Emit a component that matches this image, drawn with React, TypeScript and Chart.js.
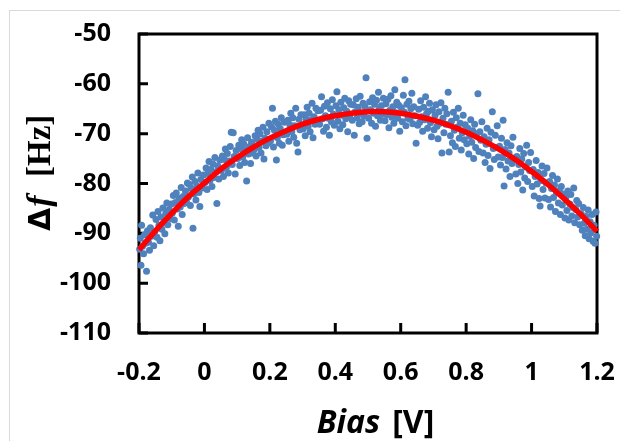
import React, { useEffect, useRef } from 'react';
import { Chart, registerables } from 'chart.js';

Chart.register(...registerables);

// ---- axis ticks ----
const xTickValues = [-0.2, 0, 0.2, 0.4, 0.6, 0.8, 1, 1.2];
const xTickLabels = ['-0.2', '0', '0.2', '0.4', '0.6', '0.8', '1', '1.2'];
const yTickValues = [-110, -100, -90, -80, -70, -60, -50];
const yTickLabels = ['-110', '-100', '-90', '-80', '-70', '-60', '-50'];

// ---- fitted curve (red) ----
const fitBias = [-0.2, -0.15, -0.1, -0.05, 0, 0.05, 0.1, 0.15, 0.2, 0.25, 0.3, 0.35, 0.4, 0.45, 0.5, 0.55, 0.6, 0.65, 0.7, 0.75, 0.8, 0.85, 0.9, 0.95, 1.0, 1.05, 1.1, 1.15, 1.2];
const fitDeltaF = [-93.3, -89.5, -86.0, -82.7, -79.9, -77.1, -74.8, -72.7, -70.9, -69.4, -68.1, -67.1, -66.4, -65.9, -65.6, -65.6, -65.9, -66.5, -67.3, -68.4, -69.7, -71.3, -73.1, -75.2, -77.6, -80.2, -83.1, -86.2, -89.6];

// ---- measured points (blue), [bias V, delta f Hz] ----
const measuredPoints: [number, number][] = [
  [-0.198,-93.2],[-0.196,-91.0],[-0.194,-96.4],[-0.192,-88.4],[-0.189,-92.6],[-0.186,-94.1],[-0.183,-90.3],[-0.180,-92.0],[-0.177,-97.6],[-0.174,-89.5],[-0.171,-91.8],[-0.168,-93.4],[-0.165,-88.9],[-0.162,-90.6],[-0.158,-86.3],[-0.155,-92.5],[-0.152,-89.7],
  [-0.148,-87.2],[-0.145,-90.8],[-0.142,-85.6],[-0.139,-88.4],[-0.136,-91.5],[-0.133,-86.7],[-0.130,-89.2],[-0.127,-84.9],[-0.124,-87.9],[-0.121,-90.1],[-0.118,-86.0],[-0.115,-83.9],[-0.112,-88.3],[-0.108,-85.2],[-0.104,-87.0],[-0.101,-84.1],
  [-0.098,-85.9],[-0.095,-82.4],[-0.092,-87.3],[-0.089,-83.8],[-0.086,-81.9],[-0.083,-85.1],[-0.080,-88.6],[-0.077,-83.0],[-0.074,-84.7],[-0.071,-80.8],[-0.068,-86.2],[-0.065,-82.6],[-0.062,-84.0],[-0.058,-81.5],[-0.055,-83.6],[-0.052,-79.9],
  [-0.049,-82.7],[-0.046,-80.2],[-0.043,-84.4],[-0.040,-81.0],[-0.037,-78.7],[-0.035,-89.0],[-0.032,-82.1],[-0.029,-79.6],[-0.026,-83.3],[-0.023,-80.5],[-0.020,-77.9],[-0.017,-81.8],[-0.014,-84.6],[-0.011,-79.2],[-0.007,-80.9],[-0.003,-78.3],
  [0.002,-79.8],[0.005,-76.9],[0.008,-81.2],[0.011,-78.0],[0.014,-75.6],[0.017,-79.4],[0.020,-77.2],[0.023,-80.6],[0.026,-76.1],[0.029,-78.8],[0.032,-74.8],[0.035,-77.7],[0.038,-84.0],[0.041,-76.5],[0.044,-79.1],[0.047,-75.3],
  [0.052,-77.4],[0.055,-74.5],[0.058,-78.6],[0.061,-75.2],[0.064,-73.1],[0.067,-76.8],[0.070,-74.0],[0.073,-77.9],[0.076,-75.5],[0.079,-72.6],[0.082,-69.7],[0.085,-76.2],[0.088,-69.8],[0.091,-74.6],[0.094,-78.1],[0.097,-73.4],
  [0.102,-75.0],[0.105,-72.3],[0.108,-76.4],[0.111,-73.0],[0.114,-71.2],[0.117,-74.7],[0.120,-72.0],[0.123,-75.8],[0.126,-73.3],[0.129,-79.5],[0.132,-70.8],[0.135,-74.1],[0.138,-72.6],[0.141,-76.0],[0.144,-71.7],[0.147,-73.9],
  [0.152,-73.2],[0.155,-70.4],[0.158,-74.5],[0.161,-71.1],[0.164,-69.3],[0.167,-72.8],[0.170,-70.0],[0.173,-73.9],[0.176,-71.5],[0.179,-68.7],[0.182,-75.1],[0.185,-70.9],[0.188,-72.4],[0.191,-69.6],[0.194,-71.9],[0.197,-67.9],
  [0.202,-71.4],[0.205,-68.6],[0.208,-64.9],[0.211,-72.7],[0.214,-69.3],[0.217,-67.5],[0.220,-75.3],[0.223,-70.8],[0.226,-68.1],[0.229,-71.9],[0.232,-69.0],[0.235,-66.8],[0.238,-72.3],[0.241,-70.2],[0.244,-67.7],[0.247,-69.7],
  [0.252,-70.1],[0.255,-67.3],[0.258,-71.5],[0.261,-68.2],[0.264,-65.9],[0.267,-69.6],[0.270,-66.8],[0.273,-70.7],[0.276,-68.4],[0.279,-64.9],[0.282,-71.9],[0.286,-73.7],[0.289,-67.1],[0.292,-69.2],[0.295,-66.2],[0.298,-68.9],
  [0.302,-69.0],[0.305,-66.2],[0.308,-70.4],[0.311,-67.1],[0.314,-64.7],[0.317,-68.5],[0.320,-65.9],[0.323,-69.6],[0.326,-67.3],[0.329,-63.9],[0.332,-70.8],[0.335,-66.6],[0.338,-68.1],[0.341,-64.9],[0.344,-67.8],[0.347,-65.4],
  [0.352,-68.1],[0.355,-65.3],[0.358,-62.6],[0.361,-67.0],[0.364,-69.5],[0.367,-64.5],[0.370,-66.4],[0.373,-68.7],[0.376,-63.8],[0.379,-66.9],[0.382,-70.3],[0.385,-65.0],[0.388,-67.6],[0.391,-63.2],[0.394,-66.1],[0.397,-68.3],
  [0.402,-64.4],[0.405,-61.6],[0.408,-67.5],[0.411,-65.2],[0.414,-69.0],[0.417,-63.7],[0.420,-66.3],[0.423,-68.2],[0.426,-64.8],[0.429,-62.9],[0.432,-67.0],[0.435,-65.5],[0.438,-69.6],[0.441,-63.4],[0.444,-66.7],[0.447,-64.1],
  [0.452,-67.3],[0.455,-64.2],[0.458,-70.3],[0.461,-65.6],[0.464,-63.0],[0.467,-66.8],[0.470,-64.7],[0.473,-68.0],[0.476,-62.5],[0.479,-65.9],[0.482,-67.6],[0.485,-63.9],[0.488,-66.4],[0.491,-64.6],[0.494,-58.8],[0.497,-70.9],
  [0.502,-66.9],[0.505,-63.6],[0.508,-65.2],[0.511,-67.9],[0.514,-62.8],[0.517,-65.9],[0.520,-64.1],[0.523,-68.5],[0.526,-63.3],[0.529,-66.4],[0.532,-61.7],[0.535,-65.0],[0.538,-67.3],[0.541,-64.4],[0.544,-66.1],[0.547,-62.9],
  [0.552,-67.4],[0.555,-64.0],[0.558,-66.2],[0.561,-63.1],[0.564,-68.8],[0.567,-65.3],[0.570,-62.4],[0.573,-66.7],[0.576,-64.6],[0.579,-67.9],[0.582,-61.2],[0.585,-65.8],[0.588,-63.7],[0.591,-66.9],[0.594,-64.3],[0.597,-69.5],
  [0.602,-64.8],[0.605,-67.6],[0.608,-62.3],[0.611,-65.7],[0.613,-59.2],[0.616,-68.4],[0.619,-64.1],[0.622,-66.9],[0.625,-63.5],[0.628,-67.1],[0.631,-65.0],[0.634,-61.9],[0.637,-68.0],[0.640,-64.6],[0.643,-66.4],[0.647,-71.9],
  [0.652,-68.3],[0.655,-65.1],[0.658,-67.7],[0.661,-63.4],[0.664,-66.6],[0.667,-69.5],[0.670,-64.7],[0.673,-67.2],[0.676,-62.6],[0.679,-66.0],[0.682,-68.9],[0.685,-65.5],[0.688,-63.9],[0.691,-67.8],[0.694,-70.6],[0.697,-65.2],
  [0.702,-69.2],[0.705,-66.3],[0.708,-64.2],[0.711,-68.5],[0.714,-71.0],[0.717,-65.6],[0.720,-67.9],[0.723,-63.8],[0.726,-73.9],[0.729,-66.9],[0.732,-69.8],[0.735,-64.9],[0.738,-68.1],[0.741,-66.0],[0.745,-61.7],[0.748,-73.7],
  [0.752,-70.4],[0.755,-67.5],[0.758,-71.8],[0.761,-65.7],[0.764,-69.3],[0.767,-72.6],[0.770,-66.8],[0.773,-68.7],[0.776,-64.9],[0.779,-70.9],[0.782,-67.9],[0.785,-73.3],[0.788,-69.8],[0.791,-66.3],[0.794,-71.2],[0.797,-68.2],
  [0.802,-72.0],[0.805,-68.9],[0.808,-74.1],[0.811,-70.5],[0.814,-67.2],[0.817,-71.7],[0.820,-69.4],[0.823,-75.0],[0.826,-68.1],[0.829,-72.8],[0.832,-70.0],[0.836,-62.0],[0.839,-73.6],[0.842,-69.6],[0.845,-71.3],[0.848,-67.6],
  [0.852,-73.9],[0.855,-70.6],[0.858,-75.8],[0.861,-72.1],[0.864,-68.9],[0.867,-74.4],[0.870,-71.2],[0.873,-77.0],[0.876,-69.7],[0.880,-65.6],[0.883,-73.0],[0.886,-75.2],[0.889,-70.3],[0.892,-72.8],[0.895,-68.4],[0.898,-74.7],
  [0.902,-72.5],[0.905,-76.3],[0.908,-70.9],[0.911,-74.8],[0.913,-67.3],[0.916,-80.5],[0.919,-73.2],[0.922,-77.1],[0.925,-71.8],[0.928,-75.5],[0.931,-73.9],[0.934,-78.6],[0.937,-72.4],[0.940,-76.0],[0.943,-70.7],[0.947,-74.9],
  [0.952,-78.1],[0.955,-74.6],[0.958,-80.0],[0.961,-76.2],[0.964,-73.0],[0.967,-77.7],[0.970,-75.1],[0.973,-81.3],[0.976,-74.0],[0.979,-78.9],[0.982,-76.7],[0.985,-72.3],[0.988,-79.6],[0.991,-75.8],[0.994,-77.4],[0.997,-73.8],
  [1.002,-80.6],[1.005,-77.2],[1.008,-82.5],[1.011,-78.6],[1.014,-75.4],[1.017,-80.1],[1.020,-77.8],[1.023,-83.0],[1.026,-84.5],[1.029,-79.4],[1.032,-76.5],[1.035,-81.2],[1.038,-78.0],[1.041,-82.9],[1.044,-79.9],[1.047,-76.9],
  [1.052,-83.2],[1.055,-79.6],[1.058,-84.7],[1.061,-81.0],[1.064,-78.4],[1.067,-82.8],[1.070,-80.3],[1.073,-85.6],[1.076,-81.9],[1.079,-79.1],[1.082,-83.9],[1.085,-81.4],[1.088,-86.2],[1.091,-80.6],[1.094,-84.3],[1.097,-82.1],
  [1.102,-86.9],[1.105,-82.7],[1.108,-85.4],[1.111,-81.5],[1.114,-87.3],[1.117,-84.1],[1.120,-82.2],[1.123,-86.5],[1.126,-84.8],[1.129,-80.9],[1.132,-87.9],[1.135,-85.2],[1.138,-83.4],[1.141,-86.7],[1.144,-84.0],[1.147,-88.3],
  [1.152,-86.1],[1.155,-89.4],[1.158,-84.8],[1.161,-88.0],[1.164,-90.5],[1.167,-86.6],[1.170,-89.2],[1.173,-85.3],[1.176,-91.1],[1.179,-87.7],[1.182,-89.9],[1.185,-86.2],[1.188,-91.6],[1.191,-88.4],[1.194,-92.0],[1.197,-85.7],[1.199,-90.6],
];

const FONT = '"Open Sans", "Noto Sans", sans-serif';

const framePlugin = {
  id: 'frameAndTitles',
  beforeDatasetsDraw(chart: any) {
    const { ctx, chartArea: a, scales } = chart;
    ctx.save();
    ctx.strokeStyle = '#000';
    ctx.lineWidth = 3;
    ctx.lineCap = 'butt';
    ctx.strokeRect(a.left, a.top, a.right - a.left, a.bottom - a.top);
    ctx.beginPath();
    for (const v of yTickValues) {
      const y = scales.y.getPixelForValue(v);
      ctx.moveTo(a.left, y);
      ctx.lineTo(a.left + 9, y);
    }
    for (const v of xTickValues) {
      const x = scales.x.getPixelForValue(v);
      ctx.moveTo(x, a.bottom);
      ctx.lineTo(x, a.bottom - 10);
    }
    ctx.stroke();
    ctx.restore();
  },
  afterDraw(chart: any) {
    const { ctx } = chart;
    ctx.save();
    ctx.fillStyle = '#000';
    ctx.textBaseline = 'alphabetic';
    ctx.textAlign = 'left';
    // x-axis title: "Bias [V]"
    const fItalic = `italic bold 32px ${FONT}`;
    const fBold = `bold 32px ${FONT}`;
    ctx.font = fItalic;
    const wBias = ctx.measureText('Bias').width;
    ctx.font = fBold;
    const wV = ctx.measureText('[V]').width;
    const gap = 12;
    const total = wBias + gap + wV;
    const cx = 375.5;
    const x0 = cx - total / 2;
    ctx.font = fItalic;
    ctx.fillText('Bias', x0, 433);
    ctx.font = fBold;
    ctx.fillText('[V]', x0 + wBias + gap, 433);

    // y-axis title: "Δf [Hz]" rotated
    ctx.translate(50, 231);
    ctx.rotate(-Math.PI / 2);
    ctx.font = 'bold 30px "DejaVu Sans", sans-serif';
    const wD = ctx.measureText('Δ').width;
    ctx.fillText('Δ', 0, 0);
    ctx.font = 'italic bold 34px "Liberation Serif", "DejaVu Serif", serif';
    ctx.fillText('f', wD + 1, 0);
    ctx.font = 'bold 33px "Liberation Serif", "DejaVu Serif", serif';
    ctx.fillText('[Hz]', 54, 0);
    ctx.restore();
  },
};

const zeroPadding = (scale: any) => {
  scale.paddingLeft = 0;
  scale.paddingRight = 0;
  scale.paddingTop = 0;
  scale.paddingBottom = 0;
};

export default function App() {
  const ref = useRef<HTMLCanvasElement | null>(null);

  useEffect(() => {
    if (!ref.current) return;
    const chart = new Chart(ref.current, {
      type: 'scatter',
      data: {
        datasets: [
          {
            label: 'fit',
            type: 'line',
            data: fitBias.map((x, i) => ({ x, y: fitDeltaF[i] })),
            borderColor: '#FF0000',
            borderWidth: 5.5,
            pointRadius: 0,
            tension: 0.4,
            fill: false,
            order: 0,
            clip: false as any,
          } as any,
          {
            label: 'measured',
            data: measuredPoints.map(([x, y]) => ({ x, y })),
            backgroundColor: '#4F81BD',
            borderWidth: 0,
            pointRadius: 3.5,
            pointHoverRadius: 3.5,
            order: 1,
            clip: false as any,
          } as any,
        ],
      },
      options: {
        responsive: false,
        animation: false,
        devicePixelRatio: 1,
        layout: { padding: { left: 0, top: 34, right: 23, bottom: 0 } },
        plugins: { legend: { display: false }, tooltip: { enabled: false } },
        scales: {
          x: {
            type: 'linear',
            min: -0.2,
            max: 1.2,
            grid: { display: false, drawTicks: false },
            border: { display: false },
            afterBuildTicks: (scale: any) => {
              scale.ticks = xTickValues.map((v) => ({ value: v }));
            },
            afterFit: (scale: any) => {
              scale.height = 108;
              zeroPadding(scale);
            },
            ticks: {
              padding: 25,
              color: '#000',
              maxRotation: 0,
              autoSkip: false,
              font: { family: FONT, size: 25, weight: 'bold' },
              callback: (_v: any, i: number) => xTickLabels[i],
            },
          },
          y: {
            type: 'linear',
            min: -110,
            max: -50,
            grid: { display: false, drawTicks: false },
            border: { display: false },
            afterBuildTicks: (scale: any) => {
              scale.ticks = yTickValues.map((v) => ({ value: v }));
            },
            afterFit: (scale: any) => {
              scale.width = 139;
              zeroPadding(scale);
            },
            ticks: {
              padding: 28,
              color: '#000',
              autoSkip: false,
              font: { family: FONT, size: 25, weight: 'bold' },
              callback: (_v: any, i: number) => yTickLabels[i],
            },
          },
        },
      } as any,
      plugins: [framePlugin],
    });
    return () => chart.destroy();
  }, []);

  return (
    <div style={{ position: 'fixed', left: 0, top: 0, width: 620, height: 441, background: '#fff', overflow: 'hidden' }}>
      <div style={{ position: 'absolute', left: 9, top: 10, width: 640, height: 460, border: '1px solid #D9D9D9' }} />
      <canvas ref={ref} width={620} height={441} style={{ position: 'absolute', left: 0, top: 0, width: 620, height: 441 }} />
    </div>
  );
}
